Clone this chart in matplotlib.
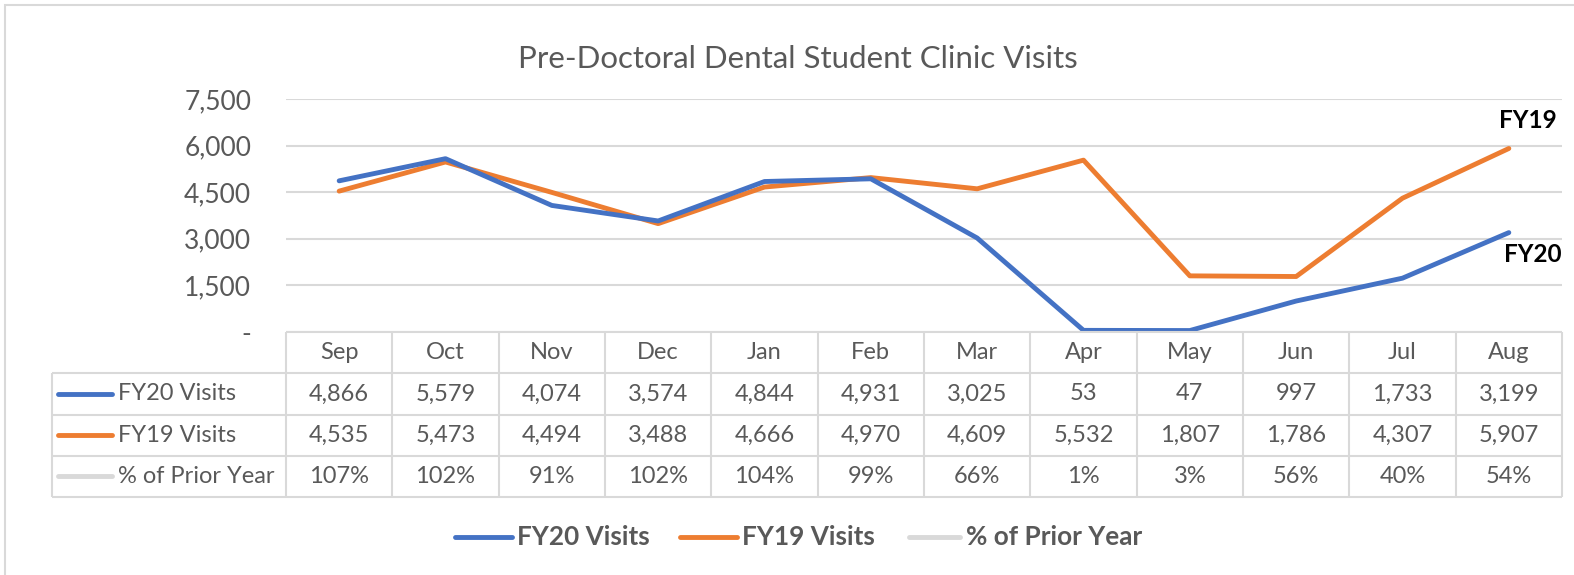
import matplotlib
matplotlib.use("Agg")
import matplotlib.pyplot as plt
from matplotlib.lines import Line2D
from matplotlib.patches import Rectangle
from matplotlib.ticker import FuncFormatter

# ---------------- data ----------------
months = ["Sep", "Oct", "Nov", "Dec", "Jan", "Feb", "Mar", "Apr", "May", "Jun", "Jul", "Aug"]
fy20_visits = [4866, 5579, 4074, 3574, 4844, 4931, 3025, 53, 47, 997, 1733, 3199]
fy19_visits = [4535, 5473, 4494, 3488, 4666, 4970, 4609, 5532, 1807, 1786, 4307, 5907]
pct_prior = [107, 102, 91, 102, 104, 99, 66, 1, 3, 56, 40, 54]
series_names = ["FY20 Visits", "FY19 Visits", "% of Prior Year"]
y_ticks = [0, 1500, 3000, 4500, 6000, 7500]
title = "Pre-Doctoral Dental Student Clinic Visits"

# ---------------- style ----------------
W, H = 1574, 575
BLUE = "#4472C4"
ORANGE = "#ED7D31"
LIGHT = "#D9D9D9"
TXT = "#595959"
FONT = ["Lato", "DejaVu Sans"]
plt.rcParams["font.family"] = FONT

fig = plt.figure(figsize=(W / 100, H / 100), dpi=100)

def fx(x):
    return x / W

def fy(y):
    return 1 - y / H

# outer chart border
fig.add_artist(Rectangle((fx(5), fy(585)), fx(1600), 580 / H, transform=fig.transFigure,
                         fill=False, edgecolor=LIGHT, lw=1.5))

# plot area
PL, PR, PT, PB = 286, 1562, 99, 332
ax = fig.add_axes([fx(PL), fy(PB), fx(PR - PL), (PB - PT) / H])
n = len(months)
x = list(range(n))
ax.set_xlim(-0.5, n - 0.5)
ax.set_ylim(0, 7500)
for s in ax.spines.values():
    s.set_visible(False)
ax.set_xticks([])
ax.set_yticks(y_ticks)
ax.yaxis.set_major_formatter(FuncFormatter(lambda v, p: "-" if v == 0 else f"{int(v):,}"))
ax.tick_params(axis="y", length=0, pad=25, labelsize=19, labelcolor=TXT)
ax.grid(axis="y", color=LIGHT, lw=1.5)
ax.set_axisbelow(True)

ax.plot(x, fy19_visits, color=ORANGE, lw=3.5, solid_capstyle="round", solid_joinstyle="round", zorder=3)
ax.plot(x, fy20_visits, color=BLUE, lw=3.5, solid_capstyle="round", solid_joinstyle="round", zorder=4)

# end labels
fig.text(fx(1557), fy(120), "FY19", ha="right", va="center", fontsize=17.5, fontweight="bold", color="black")
fig.text(fx(1562), fy(255), "FY20", ha="right", va="center", fontsize=17.5, fontweight="bold", color="black")

# title
fig.text(fx(798), fy(59), title, ha="center", va="center", fontsize=22.5, fontweight="normal", color=TXT)

# ---------------- data table ----------------
TL, TT, TB = 52, 332, 497
colw = (PR - PL) / n
left_units = -0.5 - (PL - TL) / colw
tax = fig.add_axes([fx(TL), fy(TB), fx(PR - TL), (TB - TT) / H])
tax.set_xlim(left_units, n - 0.5)
tax.set_ylim(4, 0)
tax.axis("off")
lk = dict(color=LIGHT, lw=1.5, clip_on=False, solid_capstyle="butt")
tax.plot([-0.5, n - 0.5], [0, 0], **lk)
for r in range(1, 5):
    tax.plot([left_units, n - 0.5], [r, r], **lk)
tax.plot([left_units, left_units], [1, 4], **lk)
for k in range(n + 1):
    tax.plot([k - 0.5, k - 0.5], [0, 4], **lk)

tfs = 17
for i, m in enumerate(months):
    tax.text(i, 0.5, m, ha="center", va="center", fontsize=tfs, color=TXT)
    tax.text(i, 1.5, f"{fy20_visits[i]:,}", ha="center", va="center", fontsize=tfs, color=TXT)
    tax.text(i, 2.5, f"{fy19_visits[i]:,}", ha="center", va="center", fontsize=tfs, color=TXT)
    tax.text(i, 3.5, f"{pct_prior[i]}%", ha="center", va="center", fontsize=tfs, color=TXT)

row_colors = [BLUE, ORANGE, LIGHT]
for r, (name, c) in enumerate(zip(series_names, row_colors)):
    yy = r + 1.5
    tax.plot([left_units + (58 - TL) / colw, left_units + (112 - TL) / colw], [yy, yy],
             color=c, lw=3.5, solid_capstyle="round", clip_on=False)
    tax.text(left_units + (118 - TL) / colw, yy, name, ha="left", va="center", fontsize=tfs, color=TXT)

# ---------------- legend ----------------
LY = 537
leg = [(455, 512, 517), (680, 737, 742), (909, 960, 966)]
for (x1, x2, xt), name, c in zip(leg, series_names, row_colors):
    fig.add_artist(Line2D([fx(x1), fx(x2)], [fy(LY), fy(LY)], transform=fig.transFigure,
                          color=c, lw=3.5, solid_capstyle="round"))
    fig.text(fx(xt), fy(LY), name, ha="left", va="center", fontsize=18.8, fontweight="bold", color=TXT)

fig.savefig("out.png", dpi=100)
